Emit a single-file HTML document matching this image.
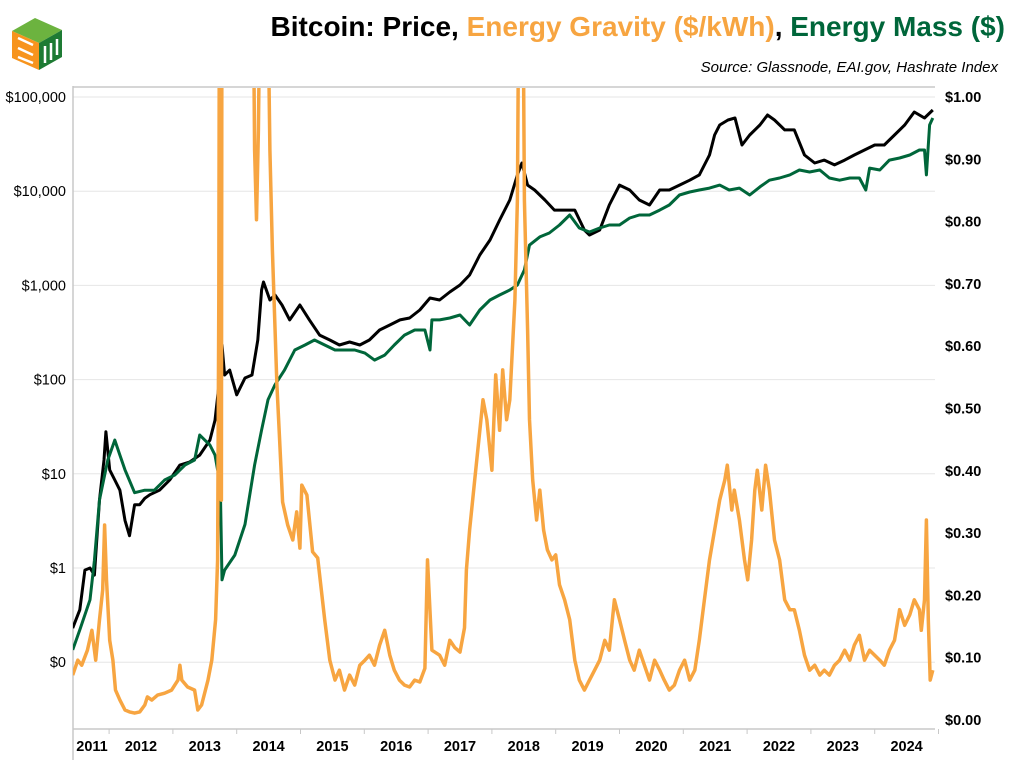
<!DOCTYPE html>
<html><head><meta charset="utf-8">
<style>
body{margin:0;background:#fff;font-family:"Liberation Sans",sans-serif;}
#wrap{position:relative;width:1013px;height:760px;overflow:hidden;}
</style></head>
<body>
<div id="wrap">
<svg id="chart" width="1013" height="760" xmlns="http://www.w3.org/2000/svg">
  <g>
    <polygon points="12,31 35,18 62,30 39,43" fill="#6cb33f"/>
    <polygon points="12,31 39,43 39,70 12,58" fill="#f7941d"/>
    <polygon points="39,43 62,30 62,57 39,70" fill="#1e7b34"/>
    <path d="M18,38 L33,45 M18,48 L33,55 M18,57 L33,63" stroke="#fff" stroke-width="2.5"/>
    <path d="M45,46 L45,63 M51,43 L51,60 M57,39 L57,55" stroke="#fff" stroke-width="2.5"/>
  </g>
  <text x="1005" y="36" text-anchor="end" font-size="28" font-weight="bold"><tspan fill="#000">Bitcoin: Price, </tspan><tspan fill="#f7a541">Energy Gravity ($/kWh)</tspan><tspan fill="#000">, </tspan><tspan fill="#00663a">Energy Mass ($)</tspan></text>
  <text x="998" y="72" text-anchor="end" font-size="15" font-style="italic" fill="#000">Source: Glassnode, EAI.gov, Hashrate Index</text>
  <g id="grid"></g>
  <g id="axes"></g>
  <defs><clipPath id="clip"><rect x="73" y="88" width="862" height="641"/></clipPath></defs>
  <g id="series" clip-path="url(#clip)"></g>
</svg>
</div>
<script>
const priceDates=[2010.93,2011.04,2011.12,2011.20,2011.27,2011.35,2011.42,2011.45,2011.51,2011.59,2011.67,2011.75,2011.82,2011.90,2011.98,2012.06,2012.14,2012.29,2012.45,2012.61,2012.76,2012.92,2013.08,2013.16,2013.23,2013.27,2013.31,2013.39,2013.50,2013.63,2013.74,2013.83,2013.89,2013.92,2014.02,2014.10,2014.21,2014.33,2014.49,2014.64,2014.80,2014.96,2015.11,2015.27,2015.43,2015.58,2015.74,2015.90,2016.06,2016.21,2016.37,2016.53,2016.68,2016.84,2017.00,2017.15,2017.31,2017.47,2017.62,2017.78,2017.90,2017.97,2018.06,2018.17,2018.33,2018.48,2018.64,2018.80,2018.95,2019.03,2019.19,2019.34,2019.50,2019.66,2019.81,2019.97,2020.13,2020.28,2020.44,2020.60,2020.75,2020.91,2020.99,2021.07,2021.20,2021.31,2021.42,2021.54,2021.70,2021.82,2021.93,2022.09,2022.24,2022.40,2022.56,2022.71,2022.87,2023.03,2023.18,2023.34,2023.50,2023.65,2023.81,2023.97,2024.12,2024.28,2024.41];
const priceValues=[0.23,0.36,0.95,1.0,0.84,5.3,14,28,11,8.6,6.7,3.2,2.2,4.7,4.7,5.5,6.0,6.7,8.6,12.4,13.3,15.8,22.8,37,99,233,112,126,69,104,112,263,894,1087,700,791,620,430,620,430,297,263,233,251,233,263,336,380,430,451,548,735,700,851,1010,1290,2100,3030,4940,8070,14900,19900,11600,10300,8070,6300,6300,6300,3870,3430,3870,7140,11600,10300,8070,7140,10300,10300,11600,13100,14900,24200,39500,50400,57000,59800,30900,39500,50400,64400,57000,44700,44700,24200,19900,21400,19000,21400,24200,27400,30900,30900,39500,50400,69300,59800,72800];

const massDates=[2010.93,2011.04,2011.20,2011.27,2011.35,2011.48,2011.59,2011.67,2011.75,2011.90,2012.06,2012.21,2012.37,2012.53,2012.69,2012.84,2012.92,2013.00,2013.08,2013.16,2013.20,2013.23,2013.27,2013.31,2013.47,2013.63,2013.78,2013.89,2013.99,2014.10,2014.25,2014.41,2014.57,2014.72,2014.88,2015.04,2015.19,2015.35,2015.51,2015.66,2015.82,2015.97,2016.13,2016.29,2016.45,2016.53,2016.56,2016.68,2016.84,2017.00,2017.15,2017.31,2017.47,2017.62,2017.78,2017.90,2018.01,2018.09,2018.25,2018.40,2018.56,2018.72,2018.87,2019.03,2019.19,2019.34,2019.50,2019.66,2019.81,2019.97,2020.13,2020.28,2020.44,2020.60,2020.75,2020.91,2021.07,2021.22,2021.38,2021.54,2021.70,2021.85,2022.01,2022.17,2022.32,2022.48,2022.64,2022.79,2022.95,2023.11,2023.26,2023.36,2023.42,2023.58,2023.73,2023.89,2024.05,2024.20,2024.28,2024.31,2024.36,2024.41];
const massValues=[0.135,0.22,0.46,1.2,5.3,14,22.8,15.8,11,6.3,6.7,6.7,8.6,9.7,12.4,14,25.8,22.8,20.2,15.8,11,22.8,0.75,0.95,1.37,2.9,12.4,29.2,61,88,126,206,233,263,233,206,206,206,191,161,182,233,297,336,336,206,430,430,451,485,380,548,700,791,894,1010,1460,2680,3270,3600,4380,5590,4070,3690,4070,4380,4380,5200,5590,5590,6300,7140,9120,9810,10300,10800,11600,10300,10800,9120,11100,13100,13800,14900,16800,16000,16800,13800,13100,13800,13800,10300,17600,16800,21400,22500,24200,27400,27400,14900,50400,59800];

const gravityDates=[2010.93,2011.01,2011.07,2011.16,2011.23,2011.29,2011.35,2011.40,2011.43,2011.46,2011.51,2011.56,2011.60,2011.67,2011.75,2011.82,2011.90,2011.98,2012.06,2012.10,2012.17,2012.26,2012.37,2012.48,2012.58,2012.61,2012.64,2012.73,2012.84,2012.89,2012.95,2013.05,2013.11,2013.17,2013.20,2013.22,2013.23,2013.25,2013.26,2013.27,2013.75,2013.78,2013.81,2013.84,2013.88,2013.97,2014.02,2014.06,2014.13,2014.17,2014.22,2014.30,2014.38,2014.44,2014.49,2014.52,2014.60,2014.69,2014.77,2014.88,2014.96,2015.04,2015.11,2015.19,2015.27,2015.35,2015.43,2015.51,2015.58,2015.66,2015.74,2015.82,2015.90,2015.97,2016.05,2016.13,2016.21,2016.29,2016.37,2016.45,2016.49,2016.56,2016.68,2016.76,2016.84,2016.92,2017.00,2017.07,2017.10,2017.15,2017.23,2017.36,2017.42,2017.50,2017.56,2017.62,2017.67,2017.73,2017.78,2017.86,2017.90,2017.93,2017.98,2018.01,2018.06,2018.09,2018.14,2018.20,2018.25,2018.31,2018.37,2018.44,2018.50,2018.56,2018.64,2018.72,2018.80,2018.87,2018.95,2019.03,2019.11,2019.19,2019.27,2019.34,2019.42,2019.50,2019.58,2019.66,2019.73,2019.81,2019.89,2019.97,2020.05,2020.13,2020.20,2020.28,2020.36,2020.44,2020.52,2020.60,2020.68,2020.75,2020.83,2020.91,2020.99,2021.07,2021.15,2021.19,2021.26,2021.30,2021.38,2021.46,2021.51,2021.57,2021.62,2021.66,2021.73,2021.79,2021.85,2021.93,2022.01,2022.09,2022.17,2022.24,2022.32,2022.40,2022.48,2022.56,2022.64,2022.71,2022.79,2022.87,2022.95,2023.03,2023.11,2023.18,2023.26,2023.34,2023.42,2023.50,2023.58,2023.65,2023.73,2023.81,2023.89,2023.97,2024.05,2024.12,2024.20,2024.23,2024.28,2024.31,2024.34,2024.37,2024.41];
const gravityValues=[0.072,0.096,0.088,0.112,0.144,0.096,0.161,0.209,0.313,0.225,0.128,0.096,0.048,0.032,0.016,0.013,0.011,0.013,0.024,0.037,0.032,0.040,0.043,0.048,0.064,0.088,0.064,0.053,0.048,0.016,0.024,0.064,0.096,0.161,0.257,0.674,1.3,1.3,0.353,1.3,1.3,0.915,0.803,0.947,1.3,1.3,0.915,0.754,0.538,0.457,0.350,0.313,0.289,0.334,0.276,0.377,0.361,0.270,0.260,0.161,0.096,0.064,0.080,0.048,0.072,0.056,0.088,0.096,0.104,0.088,0.120,0.144,0.104,0.080,0.064,0.056,0.053,0.064,0.061,0.083,0.257,0.112,0.104,0.088,0.128,0.116,0.109,0.148,0.241,0.305,0.385,0.514,0.482,0.401,0.554,0.465,0.562,0.482,0.514,0.674,0.835,1.3,1.3,0.835,0.626,0.482,0.385,0.321,0.369,0.305,0.273,0.257,0.265,0.217,0.193,0.161,0.096,0.064,0.048,0.064,0.080,0.096,0.128,0.112,0.193,0.161,0.128,0.096,0.080,0.112,0.088,0.064,0.096,0.080,0.064,0.048,0.056,0.080,0.096,0.064,0.080,0.128,0.193,0.257,0.305,0.353,0.385,0.409,0.337,0.369,0.321,0.257,0.225,0.289,0.369,0.401,0.337,0.409,0.369,0.289,0.257,0.193,0.177,0.177,0.144,0.104,0.080,0.088,0.072,0.080,0.072,0.088,0.096,0.112,0.096,0.120,0.136,0.096,0.112,0.104,0.096,0.088,0.112,0.128,0.177,0.152,0.169,0.193,0.177,0.144,0.193,0.321,0.161,0.064,0.080];

const yearLabels=[2011,2012,2013,2014,2015,2016,2017,2018,2019,2020,2021,2022,2023,2024];
const leftTicks=[100000,10000,1000,100,10,1,0.1];
const leftTickLabels=["$100,000","$10,000","$1,000","$100","$10","$1","$0"];
const rightTicks=[1.0,0.9,0.8,0.7,0.6,0.5,0.4,0.3,0.2,0.1,0.0];
const rightTickLabels=["$1.00","$0.90","$0.80","$0.70","$0.60","$0.50","$0.40","$0.30","$0.20","$0.10","$0.00"];

const NS="http://www.w3.org/2000/svg";
const X0=73,X1=935,YT=88,YB=729;
function xScale(t){return 141+(t-2012.0)*63.8;}
function yLog(v){return 568-94.2*Math.log10(v);}
function yRight(v){return 720-623*v;}
function mk(tag,attrs,parent){const e=document.createElementNS(NS,tag);for(const k in attrs)e.setAttribute(k,attrs[k]);parent.appendChild(e);return e;}

const grid=document.getElementById('grid'),axes=document.getElementById('axes'),series=document.getElementById('series');
leftTicks.forEach((v,i)=>{
  const y=yLog(v);
  const g=mk('line',{x1:X0,x2:X1,y1:y,y2:y,stroke:'#e6e6e6','stroke-width':1},grid);
  
  
  const t=mk('text',{x:66,y:y+5,'text-anchor':'end','font-size':14.5,fill:'#000'},axes);
  t.textContent=leftTickLabels[i];
  
  
});
rightTicks.forEach((v,i)=>{
  const y=yRight(v);
  const t=mk('text',{x:945,y:y+5,'font-size':14.5,'font-weight':'bold',fill:'#000'},axes);
  t.textContent=rightTickLabels[i];
  
  
});
const la=mk('line',{x1:X0,x2:X0,y1:YT-2,y2:760,stroke:'#c8c8c8','stroke-width':1.5},axes);


const ta=mk('line',{x1:X0,x2:X1,y1:YT-1,y2:YT-1,stroke:'#c8c8c8','stroke-width':1.5},axes);


const ba=mk('line',{x1:X0,x2:X1,y1:YB,y2:YB,stroke:'#c8c8c8','stroke-width':1.5},axes);


yearLabels.forEach(yr=>{
  const xt=xScale(yr+0.5);
  const tk=mk('line',{x1:xt,x2:xt,y1:YB,y2:YB+5,stroke:'#c8c8c8','stroke-width':1},axes);
  
  
  const x=Math.max(92,xScale(yr));
  const t=mk('text',{x:x,y:751,'text-anchor':'middle','font-size':14.5,'font-weight':'bold',fill:'#000'},axes);
  t.textContent=String(yr);
  
  
});
function path(dates,vals,fy){return dates.map((d,i)=>(i?'L':'M')+xScale(d).toFixed(1)+','+fy(vals[i]).toFixed(1)).join('');}
const pp=mk('path',{d:path(priceDates,priceValues,yLog),fill:'none',stroke:'#000','stroke-width':3,'stroke-linejoin':'round'},series);


const mp=mk('path',{d:path(massDates,massValues,yLog),fill:'none',stroke:'#00663a','stroke-width':3,'stroke-linejoin':'round'},series);


const gp=mk('path',{d:path(gravityDates,gravityValues,yRight),fill:'none',stroke:'#f7a541','stroke-width':3.5,'stroke-linejoin':'round'},series);


</script>
</body></html>
